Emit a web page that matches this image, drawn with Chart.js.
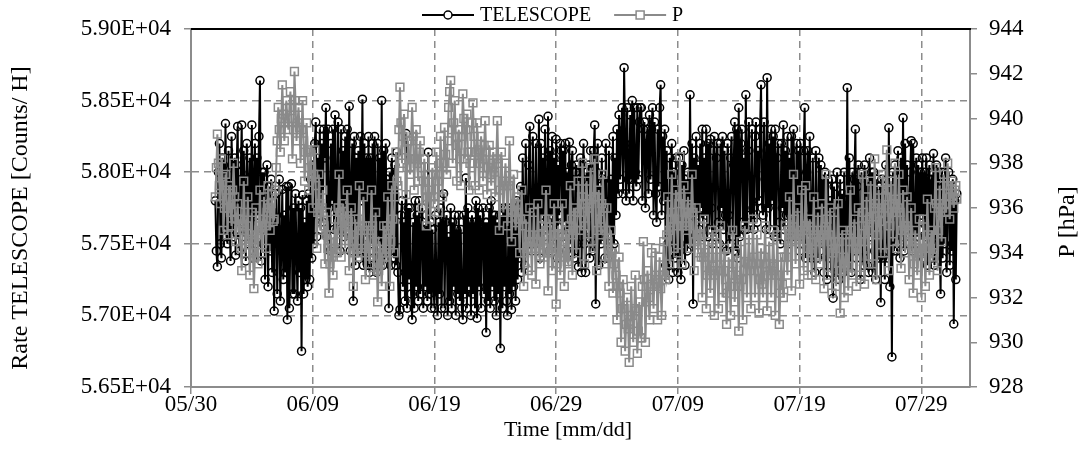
<!DOCTYPE html>
<html><head><meta charset="utf-8">
<script src="https://cdn.jsdelivr.net/npm/chart.js@4.4.1/dist/chart.umd.min.js"></script>
<style>html,body{margin:0;padding:0;background:#fff}#wrap{width:1084px;height:464px;position:relative}</style>
</head><body><div id="wrap"><canvas id="c"></canvas></div>
<script>
// ---- data ----
const seriesNames = ['TELESCOPE', 'P'];
const timeTickLabels = ['05/30', '06/09', '06/19', '06/29', '07/09', '07/19', '07/29'];
const axisTitles = ['Time [mm/dd]', 'Rate TELESCOPE [Counts/ H]', 'P [hPa]'];
const firstSampleDay = 2;      // 06/01, counted in days from 05/30
const sampleStepHours = 2;
// one row per day, 06/01 .. 07/31, samples every 2 h
const telescopeRate = [
57800,57450,57340,58000,58200,57500,57400,58100,58050,57600,58340,57550,
57500,58150,57700,57380,58250,57900,57550,58100,57420,58050,58320,57600,
57450,58000,58330,57550,58150,57850,57380,58200,57950,57500,58100,57650,
58330,57400,57950,58200,57500,58100,57700,58250,58640,57380,58000,57600,
58000,57250,57700,58050,57200,57900,57450,57950,57300,57700,57030,57850,
57850,57150,57600,57950,57100,57450,57880,57250,57700,57300,57900,56970,
57900,57050,57550,57920,57150,57750,57150,57850,57450,57100,57800,57300,
57750,56750,57840,57150,57650,57250,57800,57200,57850,57250,57950,57400,
58050,57500,58200,58350,57550,58100,57700,58300,57600,58200,57650,58300,
58100,58450,57550,58300,57750,57450,58200,57800,58300,57600,58400,57850,
57600,58350,57900,57450,58300,57750,58150,57550,58250,57800,58300,57650,
58460,57450,57850,58200,57100,58250,57350,58100,57550,58150,57450,58250,
57800,58510,57350,58200,57550,58100,57350,58250,57300,58100,57500,58200,
57400,58250,57750,57300,58200,57550,58100,57400,58500,57350,58150,57600,
58200,57450,57950,57050,58000,57350,58100,57550,57400,58050,57350,58140,
57300,57000,57040,57700,57800,57200,57650,57100,58270,57050,57750,57250,
57750,57150,56970,57650,57050,57800,57200,57700,57100,57800,57150,57600,
57750,57050,57600,57200,57700,57100,58140,57150,57650,57050,57600,57200,
57050,57700,57200,57000,57650,57150,57750,57050,57600,57850,57050,57650,
57700,57000,57550,57100,57750,57050,57650,57200,57700,57000,57600,57150,
57700,57100,57600,57050,56970,57700,57150,57960,57050,57750,57200,57650,
57000,57700,57150,57650,57050,57800,56980,57750,57200,57700,57050,57600,
57750,57150,57650,56880,57650,57100,57750,57050,57800,57200,57700,57100,
57700,57000,57650,57150,57700,56770,57700,57050,57750,57200,57750,57100,
57000,57750,57150,57700,57040,57650,57200,57750,57100,57800,57250,57700,
57400,57900,57300,58100,57550,57350,58200,57600,57500,58050,58320,57550,
57450,58250,57700,57500,58200,57600,57550,58370,57400,58200,57700,58100,
57550,58300,57800,57600,58390,57450,58150,57700,58250,57500,58100,57650,
58230,57400,58050,57700,58200,58150,57550,58150,57650,58200,57450,58000,
57600,58210,57500,58050,58150,57600,57400,58000,58050,57500,57340,57950,
58100,57300,57950,58200,57500,57300,58000,57600,58050,57400,58150,57550,
57450,58150,58330,57080,58000,58200,57350,57900,57500,58100,57600,57950,
57400,58200,57550,57400,58150,57600,57950,57450,58250,57500,58100,57700,
58300,57850,58400,57950,58250,58450,57850,58730,58200,57800,58450,57950,
57850,58400,57950,58500,57800,58450,58000,57900,58450,57950,58350,58450,
58450,57800,58300,58350,57750,58200,58300,57850,58400,57950,58300,58450,
57700,58350,57850,57650,58300,57900,58450,58610,57700,58250,57800,58300,
57350,58150,57500,57250,58100,57600,58200,57300,58000,57400,58100,57550,
57300,58100,57500,57250,58050,57600,58150,57350,57950,57450,58000,57500,
58540,57700,58200,57080,58100,57550,58250,57700,58050,57600,58200,57750,
58300,57550,58100,57700,58300,57550,58200,57600,58230,57750,57500,58150,
58250,57550,58100,58200,57650,57500,58200,57750,58250,57600,58150,57700,
57450,58200,57700,57500,58100,58250,57550,58050,58350,57450,58300,57400,
58450,57550,58200,58300,57650,58100,57600,58540,57600,58150,58350,57700,
57650,58300,57750,57600,58250,58350,57650,58150,57800,58300,58610,57750,
57700,58350,57950,57600,58660,57750,58200,57600,58300,57800,58250,57550,
58300,57550,58100,58200,57650,57500,58200,57750,58330,57600,58150,57700,
58250,57500,58100,57700,58250,57550,58300,57750,57550,58200,57650,58150,
57450,58200,57650,57500,58150,58450,57400,58000,58150,57550,58250,57700,
57400,58100,57600,57300,58150,57650,57400,58100,57450,58050,57550,57950,
57300,58000,57500,57250,57950,57400,57800,57300,57950,57120,57900,57450,
57300,58000,57450,57250,57950,57350,57850,57300,58000,57450,57350,58590,
57350,58100,57550,57300,58000,57450,57950,58300,57400,57900,58050,57500,
57250,58000,57500,57350,58050,57450,57950,57350,57300,58100,57550,58000,
57300,58000,57450,57250,57950,57550,57400,57900,57090,57950,57400,57850,
57250,58050,57550,57400,58310,57200,57800,56710,58000,57450,58050,57600,
57450,58150,57650,57400,58100,57550,58380,57450,58200,57600,58050,57700,
57500,58000,58220,57450,58200,57650,57500,58100,57550,58050,57600,58000,
57700,58100,57400,58000,57550,58100,57350,57950,58050,57400,57950,57500,
58130,57350,57950,58050,57450,58000,57550,57150,58000,57400,57900,57500,
58100,57300,57900,58000,57350,57850,57450,57950,56940,57800,57250,57850
];
const pressureHPa = [
936.5,937.8,939.3,938.0,937.0,936.2,938.2,937.4,935.0,936.0,937.5,936.8,
934.8,936.0,937.0,935.8,935.2,936.8,938.0,936.5,934.5,935.5,936.2,935.0,
935.5,934.2,933.2,935.0,937.2,935.8,934.0,935.2,936.5,934.5,933.0,934.6,
935.8,934.0,932.4,933.8,936.0,934.8,933.5,935.2,936.8,935.0,934.0,935.5,
936.5,935.2,934.2,935.8,937.0,936.0,935.0,936.2,936.6,935.4,935.5,936.8,
937.8,939.0,940.5,939.5,938.5,940.0,941.5,940.2,939.0,939.8,940.8,940.0,
939.5,940.5,941.2,940.0,938.2,939.5,942.1,940.8,939.0,939.8,940.5,939.6,
938.0,939.5,940.8,939.0,937.2,938.5,939.8,938.6,936.8,937.8,938.5,937.4,
936.0,937.5,938.6,937.0,934.2,935.8,937.5,936.2,935.0,936.0,936.8,935.2,
933.5,934.8,935.8,934.2,932.2,933.5,934.8,933.8,933.0,934.2,935.5,934.0,
934.5,936.0,937.5,935.8,933.8,935.0,936.2,935.2,934.2,935.5,936.8,935.4,
933.2,934.8,936.0,934.5,932.5,934.0,935.5,934.2,933.8,935.5,937.0,935.0,
934.0,935.2,936.5,935.0,932.8,934.2,935.2,934.0,933.5,935.0,936.8,935.2,
933.0,934.5,935.8,934.2,931.8,933.2,934.5,933.5,932.5,934.0,935.2,934.0,
933.8,935.2,936.5,935.0,932.5,934.5,937.0,935.5,934.0,936.5,938.5,937.2,
937.0,939.5,941.4,939.8,938.0,939.2,940.2,938.6,936.6,937.8,939.0,938.2,
937.5,939.0,940.5,939.2,936.8,938.2,939.5,938.0,937.2,938.5,939.0,937.8,
936.0,937.2,938.2,936.8,935.2,936.5,937.5,936.2,935.5,936.8,937.8,936.5,
936.2,937.5,938.5,937.2,935.8,937.5,939.2,938.0,936.5,938.0,939.6,938.4,
937.5,939.0,940.5,941.2,941.7,939.5,938.0,939.8,940.8,939.2,937.2,938.8,
939.5,938.2,937.0,939.2,941.1,940.0,938.2,939.5,940.2,938.5,936.8,938.0,
938.5,939.8,940.7,939.2,937.0,938.5,939.8,938.6,936.8,938.0,939.2,938.2,
937.2,938.8,939.9,938.5,936.6,937.8,938.8,937.5,937.0,938.0,938.5,937.6,
936.5,938.2,939.9,938.0,935.0,936.8,938.5,937.2,935.8,937.0,938.0,937.0,
935.2,937.0,939.0,937.2,934.5,935.8,937.5,936.2,935.0,935.8,936.5,935.5,
934.0,935.5,936.8,935.2,932.5,934.0,935.5,934.2,933.2,934.8,936.0,934.5,
933.0,934.5,935.8,934.2,932.6,934.5,936.2,934.8,933.5,934.5,935.2,934.0,
933.8,935.5,936.8,935.0,932.3,934.0,935.5,934.2,933.2,934.8,936.2,934.8,
931.7,933.5,935.2,934.0,933.0,934.8,936.2,934.5,932.5,933.8,935.0,933.6,
933.5,935.2,937.0,935.5,933.0,934.8,936.0,935.0,934.0,935.8,937.2,935.8,
935.0,936.5,938.0,936.2,933.5,935.2,937.2,936.0,934.5,936.2,937.8,936.4,
934.2,936.5,938.2,936.5,933.2,935.0,936.8,935.5,934.8,936.2,937.5,936.0,
933.5,935.0,936.0,934.5,932.5,933.8,935.0,934.0,932.2,933.5,934.2,933.0,
931.0,932.5,933.8,932.2,930.0,931.5,932.8,931.5,929.6,930.8,932.0,930.6,
929.1,930.8,932.5,931.2,930.0,931.5,933.0,931.4,929.5,930.5,931.8,930.2,
930.2,932.5,934.5,932.8,930.0,931.8,933.2,932.0,931.0,932.5,934.0,932.6,
931.5,933.0,934.2,932.8,931.0,932.5,933.8,932.4,931.2,933.0,934.5,933.0,
932.8,934.8,936.5,935.0,933.5,935.5,937.5,935.8,934.2,935.5,936.8,935.2,
934.0,936.2,938.3,936.5,933.5,935.2,937.0,935.8,935.0,935.8,936.5,935.2,
934.2,936.0,937.5,935.8,933.2,934.5,936.0,934.8,934.0,934.8,935.2,933.8,
932.0,933.8,935.5,934.0,931.5,933.0,934.5,933.2,932.2,933.8,935.0,933.4,
931.2,933.0,934.8,933.2,931.5,933.2,935.2,933.8,932.0,933.2,934.2,932.8,
930.8,932.2,933.8,932.5,931.2,933.0,935.0,933.5,931.8,933.0,934.0,932.5,
930.5,932.5,934.5,932.8,931.0,933.2,935.2,933.6,932.0,933.5,934.8,933.2,
931.5,933.5,935.5,933.8,932.0,933.5,934.8,933.2,931.3,932.8,934.2,932.6,
932.0,933.8,935.2,933.5,931.4,933.0,934.5,933.2,932.0,933.5,935.0,933.4,
931.2,933.0,934.8,933.0,930.8,932.2,933.8,932.6,932.0,933.8,935.2,933.8,
933.0,935.0,936.5,934.8,932.3,934.5,937.5,935.5,933.5,934.8,936.0,934.6,
932.6,934.8,936.8,935.0,933.2,935.2,937.0,935.2,933.0,934.2,935.5,934.0,
933.0,935.0,936.5,934.8,932.8,934.5,935.8,934.5,933.5,935.0,936.2,934.8,
932.4,935.0,937.5,935.5,933.0,934.8,936.0,934.5,932.2,934.0,935.8,934.2,
932.5,934.5,936.2,934.5,931.3,933.2,935.0,933.8,932.0,933.5,934.8,933.4,
932.3,934.5,936.8,935.0,933.0,934.5,935.5,934.2,932.5,934.2,936.0,934.5,
933.0,935.2,937.5,935.8,932.6,934.5,936.5,935.0,933.5,935.5,937.2,935.6,
933.5,936.0,938.2,936.2,932.8,934.8,936.8,935.4,934.0,935.8,937.5,936.0,
934.0,936.5,938.6,936.8,933.2,935.2,937.2,935.8,934.5,936.2,938.0,936.4,
934.2,936.0,937.5,935.8,933.3,935.0,936.8,935.2,934.0,935.2,936.5,935.0,
932.8,934.5,936.0,934.2,932.2,933.5,935.0,934.0,933.0,934.2,935.5,934.0,
932.0,934.0,935.5,934.2,932.5,934.5,936.4,934.8,933.0,934.2,935.0,933.8,
934.0,936.0,937.8,936.2,933.2,935.0,937.0,935.8,934.5,936.0,937.5,936.2,
935.8,937.0,938.0,937.0,935.5,936.5,937.2,936.4,936.0,936.8,937.0,936.4
];

// ---- build ----
const FONT = "'Liberation Serif','Times New Roman',serif";
const GRID = '#8c8c8c';
const toPoints = arr => arr.map((v, i) => ({ x: firstSampleDay + i * sampleStepHours / 24, y: v }));

const decor = {
  id: 'decor',
  afterDraw(chart) {
    const { ctx, chartArea: a } = chart;
    ctx.save();
    ctx.strokeStyle = '#000'; ctx.lineWidth = 2; ctx.setLineDash([]);
    ctx.beginPath(); ctx.moveTo(a.left, a.top); ctx.lineTo(a.right + 1, a.top); ctx.stroke();
    ctx.fillStyle = '#000';
    ctx.textAlign = 'center'; ctx.textBaseline = 'middle';
    ctx.font = '22px ' + FONT;
    ctx.fillText(axisTitles[0], 568, 430);
    ctx.font = '24px ' + FONT;
    ctx.save(); ctx.translate(21, 218); ctx.rotate(-Math.PI / 2); ctx.fillText(axisTitles[1], 0, 0); ctx.restore();
    ctx.save(); ctx.translate(1068, 222); ctx.rotate(-Math.PI / 2); ctx.fillText(axisTitles[2], 0, 0); ctx.restore();
    // legend
    ctx.font = '20px ' + FONT;
    ctx.textAlign = 'left';
    const ly = 15;
    let x = 422;
    chart.data.datasets.forEach((ds) => {
      ctx.strokeStyle = ds.borderColor; ctx.lineWidth = 2;
      ctx.beginPath(); ctx.moveTo(x, ly); ctx.lineTo(x + 52, ly); ctx.stroke();
      ctx.fillStyle = '#fff'; ctx.lineWidth = 1.5;
      if (ds.pointStyle === 'circle') {
        ctx.beginPath(); ctx.arc(x + 26, ly, 4, 0, Math.PI * 2); ctx.fill(); ctx.stroke();
      } else {
        ctx.fillRect(x + 22, ly - 4, 8, 8); ctx.strokeRect(x + 22, ly - 4, 8, 8);
      }
      ctx.fillStyle = '#000';
      ctx.fillText(ds.label, x + 58, ly + 1);
      x += 58 + ctx.measureText(ds.label).width + 23;
    });
    ctx.restore();
  }
};

new Chart(document.getElementById('c'), {
  type: 'line',
  data: {
    datasets: [
      { label: seriesNames[0], data: toPoints(telescopeRate), yAxisID: 'y', order: 1,
        borderColor: '#000', borderWidth: 2, pointStyle: 'circle', pointRadius: 4,
        pointBorderWidth: 1.5, pointBorderColor: '#000', pointBackgroundColor: 'rgba(255,255,255,0)' },
      { label: seriesNames[1], data: toPoints(pressureHPa), yAxisID: 'y2', order: 0,
        borderColor: '#8a8a8a', borderWidth: 2, pointStyle: 'rect', pointRadius: 5.5,
        pointBorderWidth: 1.5, pointBorderColor: '#8a8a8a', pointBackgroundColor: 'rgba(255,255,255,0)' }
    ]
  },
  options: {
    responsive: true, maintainAspectRatio: false, animation: false,
    devicePixelRatio: 1,
    layout: { padding: { top: 29, left: 0, right: 0, bottom: 0 } },
    plugins: { legend: { display: false }, tooltip: { enabled: false } },
    elements: { line: { tension: 0 } },
    scales: {
      x: {
        type: 'linear', min: 0, max: 64,
        afterFit: s => { s.height = 77; },
        ticks: { stepSize: 10, includeBounds: false, color: '#000', padding: -3,
          font: { family: FONT, size: 23 }, maxRotation: 0,
          callback: v => timeTickLabels[Math.round(v / 10)] },
        grid: { color: GRID, lineWidth: 1.5, tickLength: 7, tickColor: GRID, tickBorderDash: [] },
        border: { color: GRID, width: 2, dash: [7, 5] }
      },
      y: {
        position: 'left', min: 56500, max: 59000,
        afterFit: s => { s.width = 191; },
        ticks: { stepSize: 500, color: '#000', padding: 13, font: { family: FONT, size: 23 },
          callback: v => (v / 10000).toFixed(2) + 'E+04' },
        grid: { color: GRID, lineWidth: 1.5, tickLength: 7, tickColor: GRID, tickBorderDash: [] },
        border: { color: GRID, width: 2, dash: [7, 5] }
      },
      y2: {
        position: 'right', min: 928, max: 944,
        afterFit: s => { s.width = 114; },
        ticks: { stepSize: 2, color: '#000', padding: 12, font: { family: FONT, size: 23 } },
        grid: { drawOnChartArea: false, color: GRID, lineWidth: 1.5, tickLength: 7, tickColor: GRID },
        border: { color: GRID, width: 2 }
      }
    }
  },
  plugins: [decor]
});
</script></body></html>
